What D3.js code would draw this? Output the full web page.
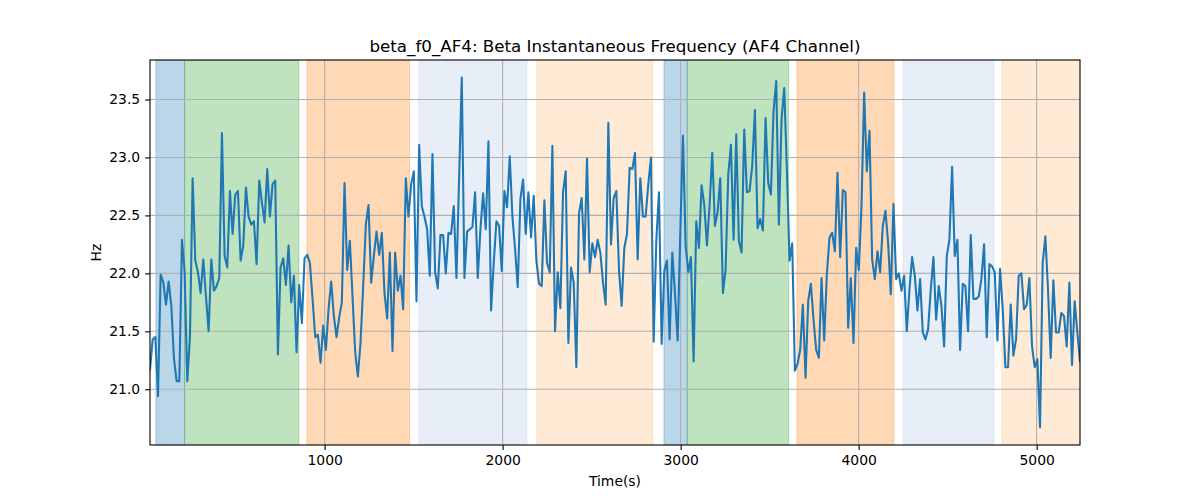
<!DOCTYPE html>
<html>
<head>
<meta charset="utf-8">
<script src="https://cdn.jsdelivr.net/npm/d3@7/dist/d3.min.js"></script>
<style>
  html, body { margin: 0; padding: 0; background: #fff; }
  svg { display: block; font-family: "DejaVu Sans", sans-serif; }
</style>
</head>
<body>
<svg id="chart" width="1200" height="500"></svg>
<script>
// ---- data ----
const T_START = 19;
const T_STEP = 14.97;
const values = [
  21.17, 21.43, 21.45, 20.94, 21.99, 21.92, 21.73, 21.93, 21.72, 21.26,
  21.07, 21.07, 22.29, 22.01, 21.07, 21.46, 22.82, 22.11, 22.01, 21.83,
  22.12, 21.80, 21.50, 22.12, 21.85, 21.89, 21.96, 23.21, 22.15, 22.05,
  22.71, 22.34, 22.68, 22.71, 22.11, 22.24, 22.74, 22.49, 22.42, 22.45,
  22.08, 22.80, 22.61, 22.44, 22.90, 22.49, 22.77,
  22.80, 21.30, 22.05, 22.13, 21.90, 22.24, 21.75, 21.98, 21.32, 21.90,
  21.57, 22.13, 22.16, 22.09, 21.78, 21.45, 21.47, 21.23, 21.55, 21.34,
  21.69, 21.93, 21.63, 21.45, 21.62, 21.75, 22.78, 22.03, 22.28, 21.80,
  21.32, 21.11, 21.40, 21.89, 22.42, 22.59, 21.92, 22.15, 22.36, 22.16,
  22.35, 21.83, 21.61, 22.18, 21.33,
  22.18, 21.85, 21.98, 21.69, 22.82, 22.49, 22.77, 22.88, 21.76, 23.11,
  22.58, 22.49, 22.38, 21.98, 23.03, 22.01, 21.87, 22.33, 22.33, 22.00,
  22.35, 22.34, 22.58, 21.96, 22.82, 23.69, 21.96, 22.36, 22.38, 22.40,
  22.70, 21.96, 22.38, 22.69, 22.38, 23.14, 21.68, 22.09, 22.45, 22.41,
  22.02, 22.71, 22.57, 23.01, 22.49,
  22.21, 21.88, 22.64, 22.81, 22.34, 22.70, 22.31, 22.67, 22.11, 21.91,
  21.89, 22.63, 22.09, 22.01, 23.10, 21.50, 22.01, 21.70, 22.70, 22.88,
  21.40, 22.05, 21.92, 21.19, 22.52, 22.65, 22.12, 22.99, 22.01, 22.26,
  22.14, 22.29, 22.18, 21.92, 21.73, 23.30, 22.25, 22.65, 22.71, 22.03,
  21.72, 22.22, 22.34, 22.91, 22.90,
  23.04, 22.12, 22.82, 22.49, 22.49, 22.77, 23.00, 21.41, 22.28, 22.70,
  21.39, 22.02, 22.11, 21.43, 22.18, 21.83, 21.42, 22.35, 23.19, 22.24,
  22.01, 22.14, 21.24, 22.45, 22.22, 22.76, 22.59, 22.24, 22.59, 23.04,
  22.41, 22.53, 22.82, 21.83, 22.03, 22.85, 23.11, 22.29, 23.20, 22.28,
  22.18, 23.24, 22.70, 22.71, 22.93,
  23.41, 22.39, 22.47, 22.37, 23.34, 22.78, 22.68, 23.40, 23.66, 22.42,
  23.33, 23.60, 22.90, 22.11, 22.26, 21.16, 21.22, 21.34, 21.73, 21.10,
  21.76, 21.91, 21.60, 21.34, 21.27, 21.96, 21.42, 21.99, 22.31, 22.35,
  22.19, 22.87, 22.14, 22.72, 22.70, 21.53, 21.96, 21.40, 22.22, 22.03,
  22.58, 23.56, 22.88, 23.23, 22.12,
  21.95, 22.19, 22.01, 22.41, 22.54, 22.26, 21.82, 22.60, 21.95, 22.00,
  21.85, 21.98, 21.50, 21.86, 22.14, 21.98, 21.68, 21.95, 21.49, 21.43,
  21.52, 21.86, 22.14, 21.60, 21.89, 21.72, 21.37, 22.15, 22.29, 22.92,
  22.15, 22.29, 21.34, 21.91, 21.89, 21.50, 22.33, 21.78, 21.78, 21.80,
  21.95, 22.25, 21.45, 22.08, 22.06,
  22.01, 21.42, 22.04, 21.69, 21.19, 21.19, 21.73, 21.29, 21.43, 21.98,
  22.00, 21.69, 21.73, 21.96, 21.37, 21.19, 21.26, 20.67, 22.09, 22.32,
  21.86, 21.27, 21.94, 21.49, 21.49, 21.66, 21.63, 21.37, 21.92, 21.21,
  21.76, 21.49, 21.24
];
const spanStarts = [52, 213.5, 900.6, 1529.8, 2192.7, 2906.2, 3037.1, 3653.4, 4248.9, 4805];
const spanEnds   = [213.5, 855.6, 1477.5, 2136.5, 2844.4, 3037.1, 3606.7, 4198.3, 4760.1, 5300];
const spanKinds  = ["blue", "green", "orange", "lightblue", "lightorange", "blue", "green", "orange", "lightblue", "lightorange"];
const xTicks = [1000, 2000, 3000, 4000, 5000];
const yTicks = [21.0, 21.5, 22.0, 22.5, 23.0, 23.5];
const titleText = "beta_f0_AF4: Beta Instantaneous Frequency (AF4 Channel)";
const xLabel = "Time(s)";
const yLabel = "Hz";

// ---- layout ----
const L = 150, R = 1080, T = 60, B = 445;
const spanColor = { blue: "#1f77b4", green: "#2ca02c", orange: "#ff7f0e", lightblue: "#aec7e8", lightorange: "#ffbb78" };

const times = values.map((_, i) => T_START + i * T_STEP);
const pts = values.map((v, i) => [times[i], v]);

const x = d3.scaleLinear().domain([times[0], times[times.length - 1]]).range([L, R]);
const [vmin, vmax] = d3.extent(values);
const pad = (vmax - vmin) * 0.05;
const y = d3.scaleLinear().domain([vmin - pad, vmax + pad]).range([B, T]);

const svg = d3.select("#chart");
svg.append("defs").append("clipPath").attr("id", "clip")
  .append("rect").attr("x", L).attr("y", T).attr("width", R - L).attr("height", B - T);

const plot = svg.append("g").attr("clip-path", "url(#clip)");

// spans
plot.selectAll("rect.span").data(spanStarts.map((s, i) => ({ s, e: spanEnds[i], k: spanKinds[i] })))
  .enter().append("rect").attr("class", "span")
  .attr("x", d => x(d.s)).attr("width", d => x(d.e) - x(d.s))
  .attr("y", T).attr("height", B - T)
  .attr("fill", d => spanColor[d.k]).attr("fill-opacity", 0.3)
  .attr("stroke", d => spanColor[d.k]).attr("stroke-opacity", 0.3).attr("stroke-width", 1);

// grid
plot.selectAll("line.gx").data(xTicks).enter().append("line")
  .attr("x1", d => x(d)).attr("x2", d => x(d)).attr("y1", T).attr("y2", B)
  .attr("stroke", "#b0b0b0").attr("stroke-width", 1.1);
plot.selectAll("line.gy").data(yTicks).enter().append("line")
  .attr("y1", d => y(d)).attr("y2", d => y(d)).attr("x1", L).attr("x2", R)
  .attr("stroke", "#b0b0b0").attr("stroke-width", 1.1);

// line
plot.append("path").datum(pts)
  .attr("d", d3.line().x(d => x(d[0])).y(d => y(d[1])))
  .attr("fill", "none").attr("stroke", "#1f77b4").attr("stroke-width", 2.08)
  .attr("stroke-linejoin", "round").attr("stroke-linecap", "square");

// axes
const xAxis = d3.axisBottom(x).tickValues(xTicks).tickFormat(d3.format("d")).tickSize(4.9).tickPadding(4.9);
const yAxis = d3.axisLeft(y).tickValues(yTicks).tickFormat(d3.format(".1f")).tickSize(4.9).tickPadding(4.9);
const gx = svg.append("g").attr("transform", `translate(0,${B})`).call(xAxis);
const gy = svg.append("g").attr("transform", `translate(${L},0)`).call(yAxis);
[gx, gy].forEach(g => {
  g.select(".domain").remove();
  g.selectAll(".tick line").attr("stroke", "#000").attr("stroke-width", 1.1);
  g.selectAll(".tick text").attr("fill", "#000").style("font-size", "13.9px").style("font-family", "DejaVu Sans");
});

// spines
svg.append("rect").attr("x", L).attr("y", T).attr("width", R - L).attr("height", B - T)
  .attr("fill", "none").attr("stroke", "#000").attr("stroke-width", 1.1);

// texts
svg.append("text").attr("x", (L + R) / 2).attr("y", 52).attr("text-anchor", "middle")
  .style("font-size", "16.7px").attr("fill", "#000").text(titleText);
svg.append("text").attr("x", (L + R) / 2).attr("y", 486).attr("text-anchor", "middle")
  .style("font-size", "13.9px").attr("fill", "#000").text(xLabel);
svg.append("text").attr("transform", `translate(101,${(T + B) / 2}) rotate(-90)`).attr("text-anchor", "middle")
  .style("font-size", "13.9px").attr("fill", "#000").text(yLabel);
</script>
</body>
</html>
